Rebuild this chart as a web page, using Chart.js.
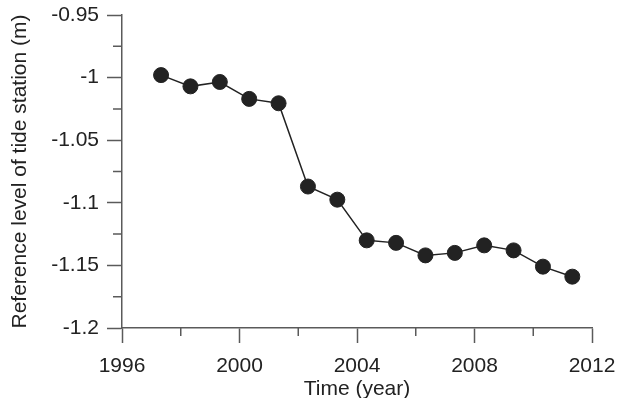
<!DOCTYPE html>
<html>
<head>
<meta charset="utf-8">
<script src="https://cdn.jsdelivr.net/npm/chart.js@4.4.0/dist/chart.umd.min.js"></script>
<style>
  html, body { margin: 0; padding: 0; background: #fff; }
  #wrap { width: 617px; height: 398px; }
</style>
</head>
<body>
<div id="wrap"><canvas id="chart"></canvas></div>
<script>
// year of each survey and the measured reference level (m)
const years = [1997.33, 1998.33, 1999.33, 2000.33, 2001.33, 2002.33, 2003.33, 2004.33,
               2005.33, 2006.33, 2007.33, 2008.33, 2009.33, 2010.33, 2011.33];
const levels = [-0.998, -1.007, -1.0035, -1.017, -1.0205, -1.087, -1.0975, -1.130,
                -1.132, -1.142, -1.140, -1.134, -1.138, -1.151, -1.159];

const xTicks = [1996, 2000, 2004, 2008, 2012];
const yTicks = [-1.2, -1.15, -1.1, -1.05, -1, -0.95];

const axisColor = '#5a5a5a';
const textColor = '#222';
const font = { family: '"Liberation Sans", Arial, sans-serif', size: 21 };

// Chart.js has no minor ticks, so draw the short ones halfway between majors
const minorTicks = {
  id: 'minorTicks',
  afterDraw(chart) {
    const { ctx, scales: { x, y } } = chart;
    ctx.save();
    ctx.strokeStyle = axisColor;
    ctx.lineWidth = 1.5;
    ctx.beginPath();
    for (let i = 0; i < xTicks.length - 1; i++) {
      const px = x.getPixelForValue((xTicks[i] + xTicks[i + 1]) / 2);
      ctx.moveTo(px, x.top);
      ctx.lineTo(px, x.top + 8);
    }
    for (let i = 0; i < yTicks.length - 1; i++) {
      const py = y.getPixelForValue((yTicks[i] + yTicks[i + 1]) / 2);
      ctx.moveTo(y.right, py);
      ctx.lineTo(y.right - 9, py);
    }
    ctx.stroke();
    ctx.restore();
  }
};

new Chart(document.getElementById('chart').getContext('2d'), {
  type: 'line',
  data: {
    datasets: [{
      data: years.map((yr, i) => ({ x: yr, y: levels[i] })),
      borderColor: '#222',
      borderWidth: 1.5,
      pointRadius: 7.5,
      pointBorderWidth: 1,
      pointBackgroundColor: '#222',
      pointBorderColor: '#222',
      tension: 0,
      clip: false
    }]
  },
  options: {
    responsive: true,
    maintainAspectRatio: false,
    animation: false,
    layout: { padding: { top: 15, right: 25, bottom: 0, left: 0 } },
    plugins: { legend: { display: false }, tooltip: { enabled: false } },
    scales: {
      x: {
        type: 'linear',
        min: 1996,
        max: 2012,
        afterBuildTicks: s => { s.ticks = xTicks.map(v => ({ value: v })); },
        afterFit: s => { s.height = 70; s.paddingLeft = 0; s.paddingRight = 0; },
        grid: { drawOnChartArea: false, tickLength: 15, tickColor: axisColor, tickWidth: 1.5 },
        border: { color: axisColor, width: 1.5 },
        ticks: { color: textColor, font, padding: 11, maxRotation: 0, autoSkip: false,
                 callback: v => String(v) },
        title: { display: true, text: 'Time (year)', color: textColor,
                 font: { ...font, lineHeight: 1 }, padding: { top: 0, bottom: -2 } }
      },
      y: {
        min: -1.2,
        max: -0.95,
        afterBuildTicks: s => { s.ticks = yTicks.map(v => ({ value: v })); },
        afterFit: s => { s.width = 122; s.paddingTop = 0; s.paddingBottom = 0; },
        grid: { drawOnChartArea: false, tickLength: 15, tickColor: axisColor, tickWidth: 1.5 },
        border: { color: axisColor, width: 1.5 },
        ticks: { color: textColor, font, padding: 8, autoSkip: false,
                 callback: v => String(+v.toFixed(2)) },
        title: { display: true, text: 'Reference level of tide station (m)', color: textColor,
                 font: { ...font, lineHeight: 1 }, padding: { top: 10, bottom: 0 } }
      }
    }
  },
  plugins: [minorTicks]
});
</script>
</body>
</html>
